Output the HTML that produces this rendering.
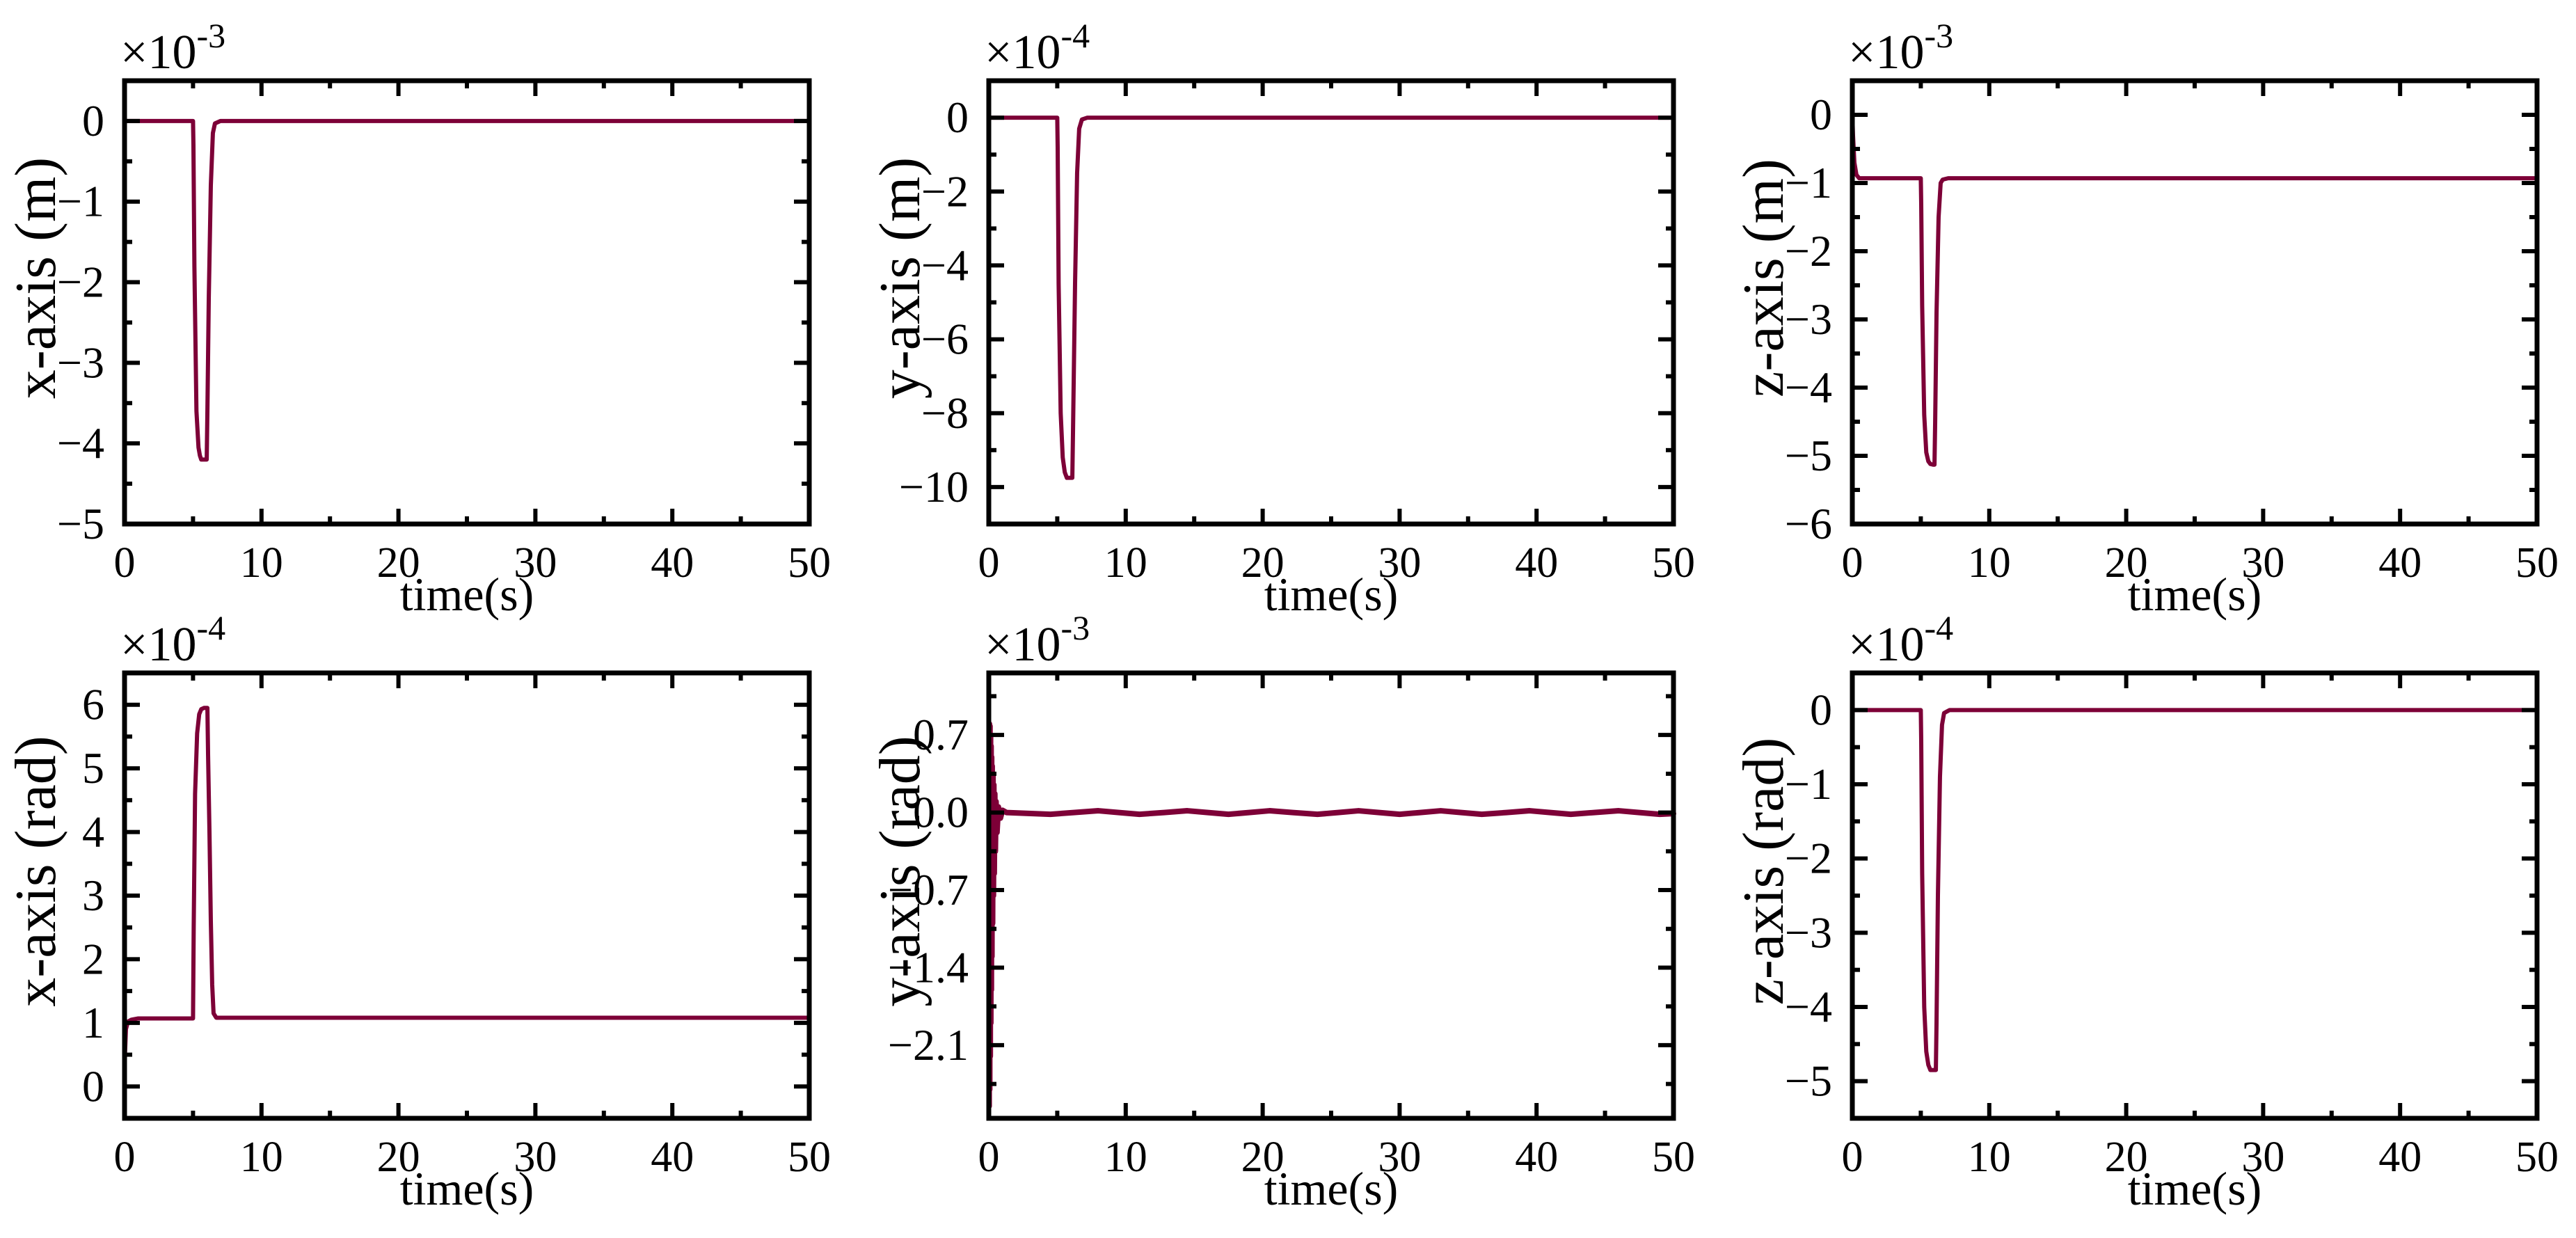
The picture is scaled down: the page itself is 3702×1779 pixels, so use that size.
<!DOCTYPE html>
<html><head><meta charset="utf-8">
<style>
html,body{margin:0;padding:0;background:#fff;}
svg{display:block;font-family:"Liberation Serif",serif;}
</style></head>
<body>
<svg id="fig" width="3702" height="1779" viewBox="0 0 3702 1779" xmlns="http://www.w3.org/2000/svg">
<rect x="0" y="0" width="3702" height="1779" fill="#fff"/>
</svg>
<script>
// ---- data (top level) ----
const xTicks = [0,10,20,30,40,50];
const xTickLabels = ["0","10","20","30","40","50"];

const p1Time = [0,5,5.03,5.1,5.25,5.4,5.5,5.6,5.8,6.0,6.05,6.15,6.3,6.45,6.6,7,50];
const p1Vals = [0,0,-0.3,-1.8,-3.6,-4.05,-4.15,-4.2,-4.2,-4.2,-3.6,-2.2,-0.8,-0.15,-0.03,0,0];
const p1YTicks = [0,-1,-2,-3,-4,-5];
const p1YLabels = ["0","\u22121","\u22122","\u22123","\u22124","\u22125"];

const p2Time = [0,5,5.03,5.1,5.25,5.4,5.55,5.7,5.9,6.1,6.15,6.3,6.45,6.6,6.8,7.2,50];
const p2Vals = [0,0,-0.8,-4.5,-8.0,-9.2,-9.6,-9.75,-9.75,-9.75,-8.5,-4.5,-1.5,-0.3,-0.05,0,0];
const p2YTicks = [0,-2,-4,-6,-8,-10];
const p2YLabels = ["0","\u22122","\u22124","\u22126","\u22128","\u221210"];

const p3Time = [0,0.05,0.15,0.3,0.5,5,5.03,5.1,5.25,5.4,5.55,5.7,5.9,6.0,6.05,6.15,6.3,6.45,6.6,7,50];
const p3Vals = [0,-0.3,-0.7,-0.88,-0.93,-0.93,-1.3,-2.8,-4.4,-4.95,-5.08,-5.12,-5.13,-5.13,-4.5,-2.9,-1.5,-1.0,-0.95,-0.93,-0.93];
const p3YTicks = [0,-1,-2,-3,-4,-5,-6];
const p3YLabels = ["0","\u22121","\u22122","\u22123","\u22124","\u22125","\u22126"];

const p4Time = [0,0.03,0.1,0.25,0.5,1,5,5.05,5.15,5.3,5.45,5.6,5.8,6.05,6.1,6.2,6.3,6.4,6.5,6.7,10,20,30,40,50];
const p4Vals = [-0.05,0.5,0.9,1.02,1.05,1.07,1.07,2.5,4.6,5.55,5.85,5.93,5.95,5.95,5.2,4.0,2.6,1.6,1.15,1.08,1.08,1.08,1.08,1.08,1.08];
const p4YTicks = [0,1,2,3,4,5,6];
const p4YLabels = ["0","1","2","3","4","5","6"];

const p5Time = [0.03,0.05,0.07,0.09,0.11,0.13,0.15,0.17,0.19,0.21,0.23,0.25,0.28,0.31,0.34,0.37,0.4,0.44,0.48,0.53,0.6,0.7,0.85,1.0,1.3,2.9,4.5,6.2,8,9.5,11,12.8,14.5,16,17.5,19,20.5,22.2,24,25.5,27,28.5,30,31.5,33,34.5,36,37.8,39.5,41,42.5,44.2,46,47.5,49,50];
const p5Vals = [-2.65,0.8,-2.5,0.78,-2.2,0.7,-1.9,0.6,-1.6,0.5,-1.3,0.42,-1.0,0.33,-0.75,0.25,-0.55,0.17,-0.35,0.1,-0.18,0.05,-0.05,0.02,0.0,-0.008,-0.016,0,0.016,0,-0.016,0,0.016,0,-0.016,0,0.016,0,-0.016,0,0.016,0,-0.016,0,0.016,0,-0.016,0,0.016,0,-0.016,0,0.016,0,-0.016,-0.01];
const p5YTicks = [0.7,0,-0.7,-1.4,-2.1];
const p5YLabels = ["0.7","0.0","\u22120.7","\u22121.4","\u22122.1"];

const p6Time = [0,5,5.03,5.1,5.25,5.4,5.55,5.7,5.9,6.1,6.15,6.25,6.4,6.55,6.7,7.1,50];
const p6Vals = [0,0,-0.4,-2.2,-4.0,-4.6,-4.78,-4.85,-4.85,-4.85,-4.2,-2.5,-0.9,-0.2,-0.04,0,0];
const p6YTicks = [0,-1,-2,-3,-4,-5];
const p6YLabels = ["0","\u22121","\u22122","\u22123","\u22124","\u22125"];

// ---- layout ----
const NS = "http://www.w3.org/2000/svg";
const svg = document.getElementById('fig');
const COLOR = "#7d0037";
const cols = [[179,1163],[1421,2405],[2662,3646]];
const rows = [[116,753],[967,1607]];

function mk(tag, attrs, parent){
  const e = document.createElementNS(NS, tag);
  for (const k in attrs) e.setAttribute(k, attrs[k]);
  (parent||svg).appendChild(e);
  return e;
}

function panel(id, col, row, ymin, ymax, yTicks, yLabels, yMinorStep, tData, vData, ylabel, exp, lw){
  const [L,R] = cols[col], [T,B] = rows[row];
  const g = mk('g', {});
  
  
  const xs = v => L + (v-0)/(50-0)*(R-L);
  const ys = v => B - (v-ymin)/(ymax-ymin)*(B-T);

  let d = '';
  for (let i=0;i<tData.length;i++){
    d += (i? 'L':'M') + xs(tData[i]).toFixed(2) + ',' + ys(vData[i]).toFixed(2);
  }
  const path = mk('path', {d:d, fill:'none', stroke:COLOR, 'stroke-width':lw, 'stroke-linejoin':'round','stroke-linecap':'round'}, g);
  
  

  const tg = mk('g', {stroke:'#000','stroke-width':6}, g);
  
  
  for (let v=0; v<=50.001; v+=5){
    const major = Math.abs(v/10 - Math.round(v/10))<1e-6;
    const len = major?22:11, x = xs(v);
    mk('line',{x1:x,y1:B,x2:x,y2:B-len},tg);
    mk('line',{x1:x,y1:T,x2:x,y2:T+len},tg);
  }
  const start = Math.ceil(ymin/yMinorStep - 1e-6);
  for (let k=start; k*yMinorStep<=ymax+1e-9; k++){
    const v = k*yMinorStep;
    const major = yTicks.some(t=>Math.abs(t-v)<1e-6);
    const len = major?22:11, y = ys(v);
    mk('line',{x1:L,y1:y,x2:L+len,y2:y},tg);
    mk('line',{x1:R,y1:y,x2:R-len,y2:y},tg);
  }
  const fr = mk('rect',{x:L,y:T,width:R-L,height:B-T,fill:'none',stroke:'#000','stroke-width':7},g);
  
  

  for (let i=0;i<xTicks.length;i++){
    const t = mk('text',{x:xs(xTicks[i]),y:B+76,'font-size':62,'text-anchor':'middle',fill:'#000'},g);
    t.textContent = xTickLabels[i];
    
    
  }
  for (let i=0;i<yTicks.length;i++){
    const t = mk('text',{x:L-29,y:ys(yTicks[i])+21,'font-size':64,'text-anchor':'end',fill:'#000'},g);
    t.textContent = yLabels[i];
    
    
  }
  const xt = mk('text',{x:(L+R)/2,y:B+124,'font-size':68,'text-anchor':'middle',fill:'#000'},g);
  xt.textContent = 'time(s)';
  
  
  const cy = (T+B)/2 - 35, cx = L-100;
  const yt = mk('text',{x:cx,y:cy,'font-size':84,'text-anchor':'middle',fill:'#000',transform:`rotate(-90 ${cx} ${cy})`},g);
  yt.textContent = ylabel;
  
  
  const ex = mk('text',{x:L-6,y:T-18,'font-size':70,fill:'#000'},g);
  
  
  const s1 = mk('tspan',{},ex); s1.textContent = '\u00d710';
  const s2 = mk('tspan',{dy:-30,'font-size':50},ex); s2.textContent = exp;
}

panel('panel-x-position',0,0,-5,0.5,p1YTicks,p1YLabels,0.5,p1Time,p1Vals,'x-axis (m)','-3',6);
panel('panel-y-position',1,0,-11,1,p2YTicks,p2YLabels,1,p2Time,p2Vals,'y-axis (m)','-4',6);
panel('panel-z-position',2,0,-6,0.5,p3YTicks,p3YLabels,0.5,p3Time,p3Vals,'z-axis (m)','-3',6);
panel('panel-x-rotation',0,1,-0.5,6.5,p4YTicks,p4YLabels,0.5,p4Time,p4Vals,'x-axis (rad)','-4',6);
panel('panel-y-rotation',1,1,-2.76,1.26,p5YTicks,p5YLabels,0.35,p5Time,p5Vals,'y-axis (rad)','-3',8);
panel('panel-z-rotation',2,1,-5.5,0.5,p6YTicks,p6YLabels,0.5,p6Time,p6Vals,'z-axis (rad)','-4',6);
</script>
</body></html>
